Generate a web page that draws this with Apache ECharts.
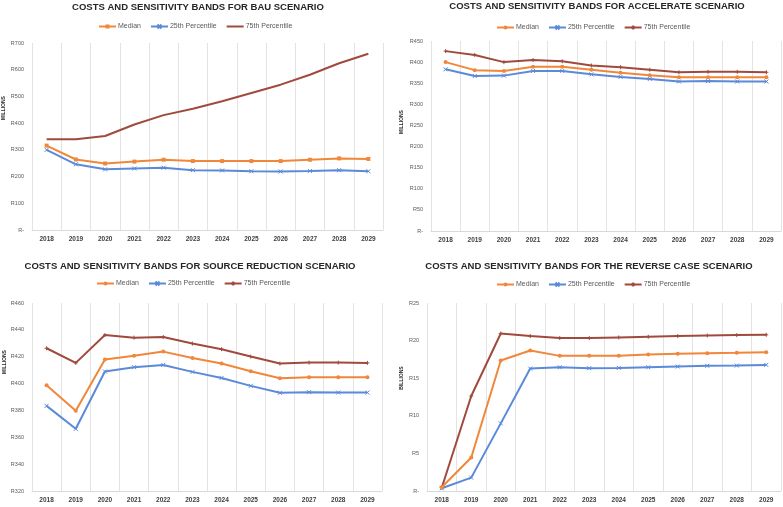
<!DOCTYPE html>
<html>
<head>
<meta charset="utf-8">
<script src="https://cdn.jsdelivr.net/npm/echarts@6/dist/echarts.min.js"></script>
<style>html,body{margin:0;padding:0;background:#fff}#c{width:783px;height:507px}</style>
</head>
<body>
<div id="c"></div>
<script>
const years = ['2018','2019','2020','2021','2022','2023','2024','2025','2026','2027','2028','2029'];
const seriesNames = ['Median', '25th Percentile', '75th Percentile'];
const titles = [
  'COSTS AND SENSITIVITY BANDS FOR BAU SCENARIO',
  'COSTS AND SENSITIVITY BANDS FOR ACCELERATE SCENARIO',
  'COSTS AND SENSITIVITY BANDS FOR SOURCE REDUCTION SCENARIO',
  'COSTS AND SENSITIVITY BANDS FOR THE REVERSE CASE SCENARIO'
];
const unitNames = ['MILLIONS', 'MILLIONS', 'MILLIONS', 'BILLIONS'];

const bauMedian = [316, 264, 249, 256, 263, 258, 258, 258, 258, 263, 268, 266];
const bauP25    = [300, 246, 227, 230, 233, 224, 223, 220, 219, 221, 224, 220];
const bauP75    = [340, 340, 352, 395, 430, 454, 482, 513, 544, 581, 624, 660];

const accMedian = [400, 381, 379, 389, 389, 382, 375, 369, 364, 364, 364, 364];
const accP25    = [383, 367, 368, 379, 379, 371, 365, 360, 354, 355, 354, 354];
const accP75    = [426, 417, 400, 405, 402, 392, 388, 382, 376, 377, 377, 376];

const srMedian = [398.8, 379.7, 417.9, 420.8, 423.8, 419.1, 414.9, 409.2, 404.0, 404.7, 404.7, 404.7];
const srP25    = [383.4, 366.3, 409.0, 412.2, 413.9, 408.7, 404.2, 398.3, 393.1, 393.6, 393.3, 393.3];
const srP75    = [426.3, 415.4, 436.2, 434.2, 434.7, 429.8, 425.6, 420.1, 414.9, 415.6, 415.6, 415.4];

const revMedian = [0.5, 4.45, 17.35, 18.68, 17.97, 17.97, 18.0, 18.15, 18.24, 18.33, 18.37, 18.46];
const revP25    = [0.36, 1.78, 8.99, 16.28, 16.46, 16.33, 16.37, 16.46, 16.55, 16.64, 16.68, 16.77];
const revP75    = [0.44, 12.63, 20.95, 20.6, 20.33, 20.33, 20.42, 20.51, 20.6, 20.68, 20.73, 20.77];

const yMin = [0, 0, 320, 0];
const yMax = [700, 450, 460, 25];
const yStep = [100, 50, 20, 5];

const panelData = [
  [bauMedian, bauP25, bauP75],
  [accMedian, accP25, accP75],
  [srMedian, srP25, srP75],
  [revMedian, revP25, revP75]
];

// layout
const grids = [
  {left: 32, top: 43, width: 351, height: 187},
  {left: 431, top: 41, width: 350, height: 190},
  {left: 32, top: 303, width: 350, height: 188},
  {left: 427, top: 303, width: 354, height: 188}
];
const titlePos = [[198, 7], [597, 6], [190, 266], [589, 266]];
const legendPos = [[98, 23], [496, 24], [96, 280], [496, 281]];
const unitPos = [[4, 108], [402, 122], [5, 362], [402, 378]];

const COL = ['#F0873A', '#5A8AD8', '#A04A3D'];
const xPath = 'path://M0,0L10,10M10,0L0,10';
const plusPath = 'path://M5,0L5,10M0,5L10,5';

const symbolsFor = (p) => [
  p === 0 ? 'rect' : 'circle',
  xPath,
  p === 0 ? 'none' : plusPath
];

const option = {
  backgroundColor: '#fff',
  animation: false,
  grid: grids.map(g => Object.assign({containLabel: false}, g)),
  xAxis: grids.map((g, i) => ({
    type: 'category', gridIndex: i, data: years, boundaryGap: true,
    axisLine: {show: true, lineStyle: {color: '#D9D9D9', width: 1}},
    axisTick: {show: false},
    splitLine: {show: true, lineStyle: {color: '#E3E3E3', width: 1}},
    axisLabel: {fontSize: 6.5, fontWeight: 'bold', color: '#404040', margin: 6, fontFamily: 'Liberation Sans'}
  })),
  yAxis: grids.map((g, i) => ({
    type: 'value', gridIndex: i, min: yMin[i], max: yMax[i], interval: yStep[i],
    axisLine: {show: false}, axisTick: {show: false}, splitLine: {show: false},
    axisLabel: {fontSize: 5.5, color: '#595959', margin: 8, fontFamily: 'Liberation Sans',
      formatter: v => v === 0 ? 'R-' : 'R' + v}
  })),
  legend: legendPos.map((lp, i) => ({
    left: lp[0], top: lp[1], orient: 'horizontal', padding: 0,
    itemWidth: 17, itemHeight: 5, itemGap: 9,
    textStyle: {fontSize: 7, color: '#595959', fontFamily: 'Liberation Sans', padding: [0, 0, 0, -3]},
    formatter: n => n.split('|')[1],
    data: seriesNames.map((s, k) => {
      const item = {name: 'P' + i + '|' + s};
      if (i === 0 && k === 2) item.itemStyle = {opacity: 0};
      return item;
    }),
    selectedMode: false
  })),
  graphic: [
    ...titles.map((t, i) => ({
      type: 'text', x: titlePos[i][0], y: titlePos[i][1],
      style: {text: t, align: 'center', verticalAlign: 'middle', fontSize: 9.5, fontWeight: 'bold',
        fontFamily: 'Liberation Sans', fill: '#262626'}
    })),
    ...unitNames.map((t, i) => ({
      type: 'text', x: unitPos[i][0], y: unitPos[i][1], rotation: Math.PI / 2,
      style: {text: t, align: 'center', verticalAlign: 'middle', fontSize: 5, fontWeight: 'bold',
        fontFamily: 'Liberation Sans', fill: '#262626'}
    }))
  ],
  series: []
};

panelData.forEach((arrs, p) => {
  const syms = symbolsFor(p);
  arrs.forEach((vals, k) => {
    option.series.push({
      type: 'line', name: 'P' + p + '|' + seriesNames[k],
      xAxisIndex: p, yAxisIndex: p, data: vals,
      symbol: syms[k], symbolSize: 4,
      showSymbol: syms[k] !== 'none',
      lineStyle: {color: COL[k], width: 2},
      itemStyle: {color: COL[k], borderColor: COL[k], borderWidth: k === 0 ? 0 : 1},
      z: 3 - k
    });
  });
});

const chart = echarts.init(document.getElementById('c'), null, {renderer: 'canvas'});
chart.setOption(option);
</script>
</body>
</html>
